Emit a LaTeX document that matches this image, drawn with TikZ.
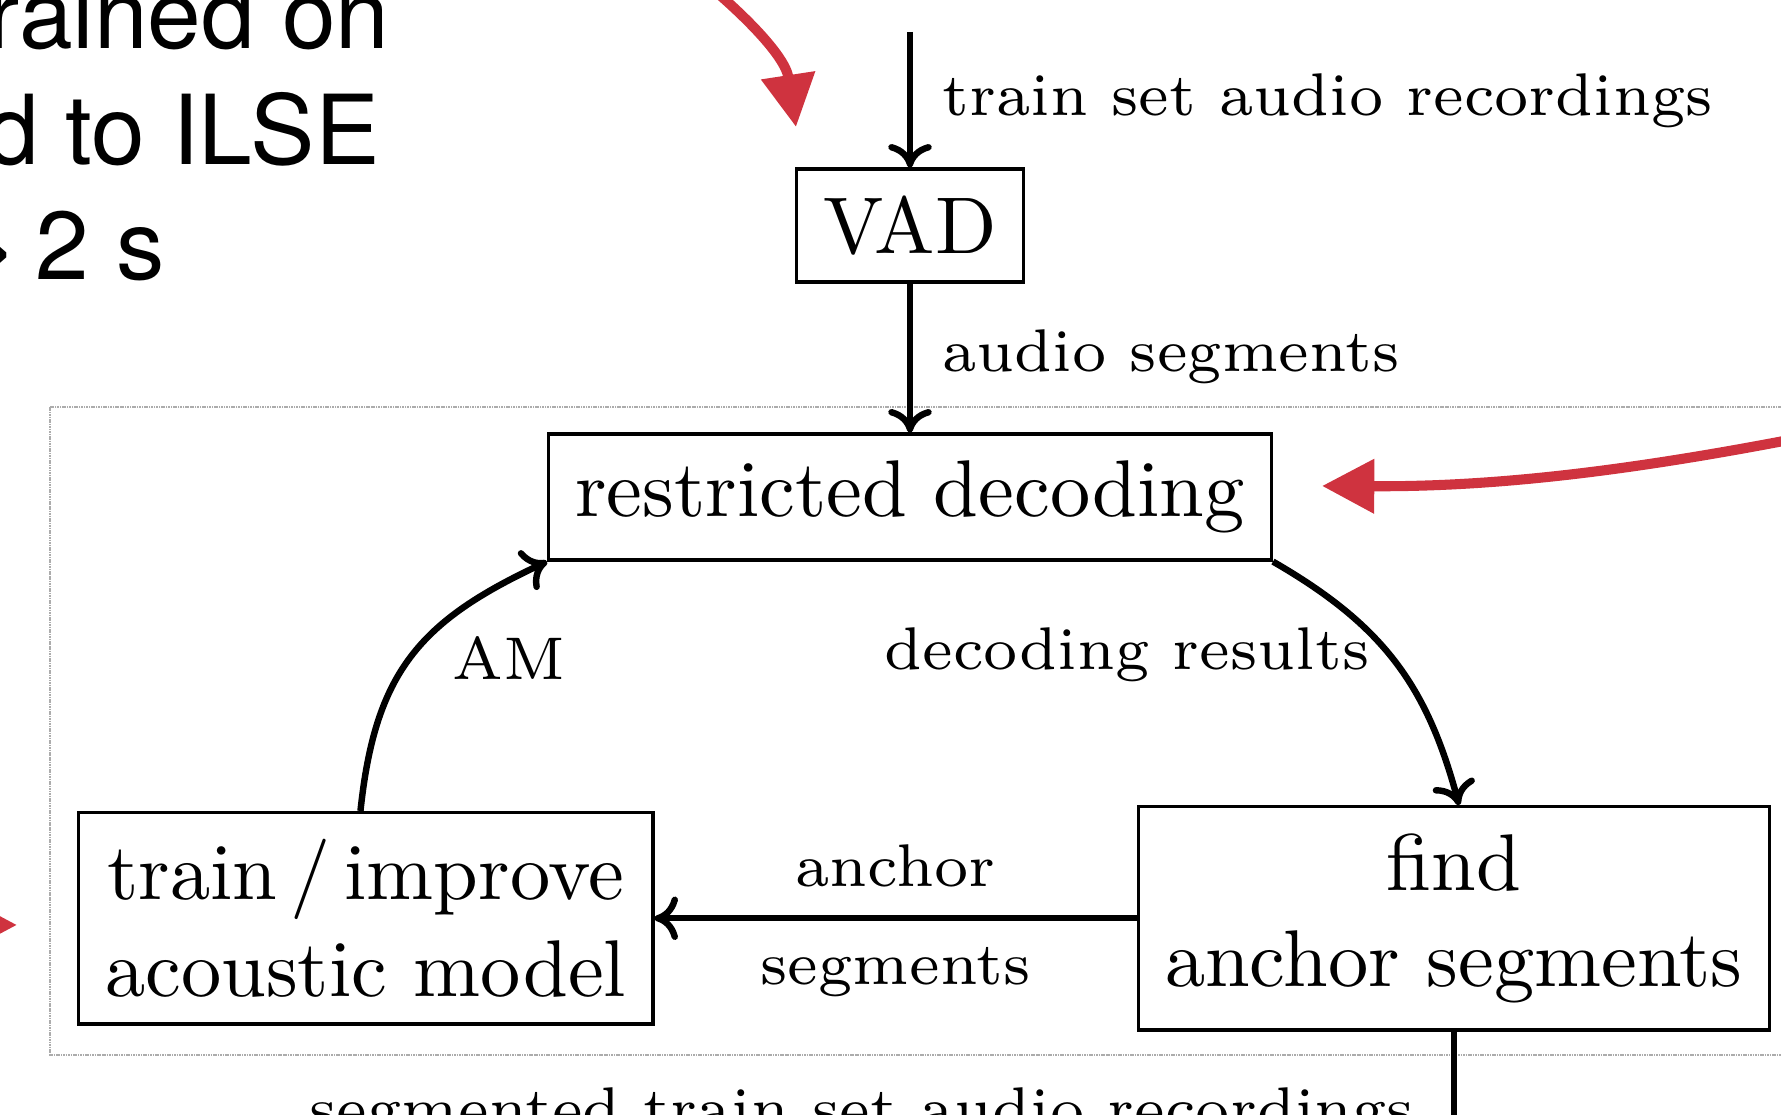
\documentclass[tikz,border=0pt]{standalone}
\usepackage{fontspec}
\newfontfamily\heros{TeX Gyre Heros}
\usetikzlibrary{arrows.meta}
\definecolor{annotred}{RGB}{207,51,63}
\tikzset{
  box/.style={draw, line width=0.4pt, align=center, font=\fontsize{10}{12}\selectfont},
  flow/.style={line width=0.8pt, -{To[length=2.9pt,width=5.4pt]}},
  plainflow/.style={line width=0.8pt},
  lbl/.style={font=\fontsize{7.49}{9}\selectfont, inner sep=0pt},
  slide/.style={font=\heros\fontsize{12}{14.4}\selectfont, inner sep=0pt},
  redarrow/.style={draw=annotred, line width=1.25pt, -{Triangle[length=6.5pt,width=6.5pt]}},
  framebox/.style={draw=gray!65, line width=0.3pt, dash pattern=on 0.2pt off 0.1pt}
}
\begin{document}
\begin{tikzpicture}[x=0.1243pt, y=-0.1243pt]
\useasboundingbox (0,0) rectangle (1781,1115);
% background frame
\draw[framebox] (50,407) rectangle (1850,1055);
% slide text (cut by the page edge)
\node[slide, anchor=base east] (t1) at (391,49) {rained on};
\node[slide, anchor=base east] (t2) at (381,165) {d to ILSE};
\node[slide, anchor=base east] (t3) at (166,280) {>\kern-0.12em\ 2 s};
% boxes
\node[box] (vad) at (910,225.5) {VAD};
\node[box] (rd) at (910,497) {restricted decoding};
\node[box] (am) at (365.7,918.3) {train\,/\,improve\\acoustic model};
\node[box] (find) at (1453.8,918.3) {find\\anchor segments};
% free ends
\coordinate (in) at (910,32);
\coordinate (out) at (1453.8,1140);
% connectors
\draw[flow] (in) -- (vad);
\draw[flow] (vad) -- (rd);
\draw[flow] ([xshift=-0.65pt]am.north) to[out=84,in=205,looseness=1.15] (rd.south west);
\draw[flow] (rd.south east) to[out=-30,in=105,looseness=1.05] ([xshift=0.65pt]find.north);
\draw[flow] (find) -- (am);
\draw[plainflow] (find) -- (out);
% labels
\node[lbl, anchor=base west] (l1) at (941,116) {train set audio recordings};
\node[lbl, anchor=base west] (l2) at (941,372) {audio segments};
\node[lbl, anchor=base west] (l3) at (451,680) {AM};
\node[lbl, anchor=base east] (l4) at (1371,670) {decoding results};
\node[lbl, anchor=base] (l5) at (895.5,886.5) {anchor};
\node[lbl, anchor=base] (l6) at (895.5,985) {segments};
\node[lbl, anchor=base west] (l7) at (308,1130) {segmented train set audio recordings};
% red annotation arrows
\coordinate (r1s) at (690,-30);
\coordinate (r1e) at (796,127);
\draw[redarrow] (r1s) .. controls (740,10) and (785,55) .. (r1e);
\coordinate (r2s) at (1830,432);
\coordinate (r2e) at (1322,486);
\draw[redarrow] (r2s) .. controls (1640,470) and (1500,487) .. (r2e);
\coordinate (r3s) at (-120,925);
\coordinate (r3e) at (17,925);
\draw[redarrow] (r3s) -- (r3e);
\end{tikzpicture}
\end{document}
